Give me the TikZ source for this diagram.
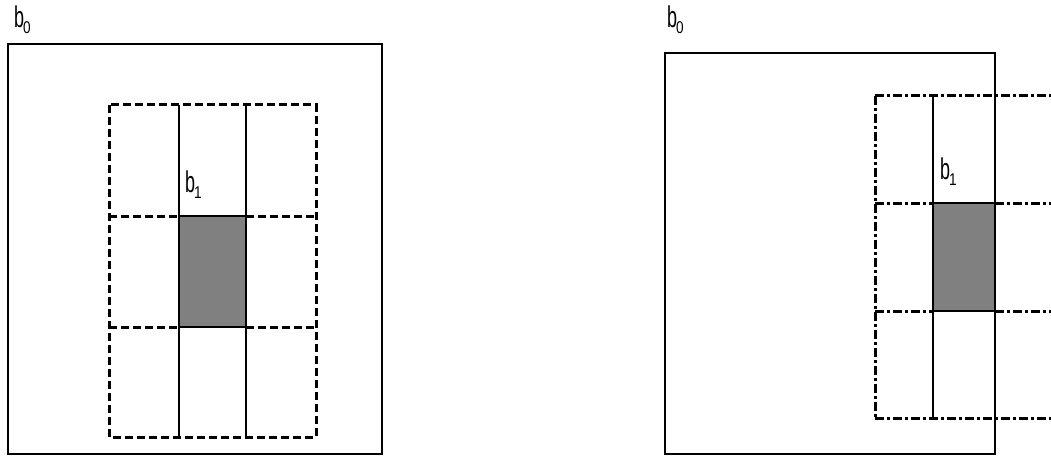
\documentclass[tikz,border=0pt]{standalone}
\usepackage{fontspec}
\setmainfont{Liberation Sans}
\tikzset{
  box/.style={draw=black, line width=2.6pt},
  solidline/.style={draw=black, line width=2.6pt},
  dashline/.style={draw=black, line width=3pt, dash pattern=on 8pt off 4pt},
  dashdotline/.style={draw=black, line width=3pt, dash pattern=on 9pt off 3pt on 3pt off 3pt},
  lbl/.style={anchor=north west, inner sep=0pt}
}
\newcommand{\blabel}[1]{\scalebox{0.6}[1]{\fontsize{30}{30}\selectfont b}\kern-1pt\raisebox{-6pt}{\scalebox{0.8}[1]{\fontsize{17}{17}\selectfont #1}}}
\begin{document}
\begin{tikzpicture}[x=1pt, y=-1pt]
\useasboundingbox (0,0) rectangle (1051,457);
\clip (0,0) rectangle (1051,457);
% ---------- left figure ----------
\node[lbl] (lb0) at (14,6) {\blabel{0}};
\draw[box] (8,44) rectangle (382,454);
\fill[gray] (179,216) rectangle (246,327);
\draw[dashline] (109,105) rectangle (316,437);
\draw[dashline] (109,216) -- (179,216);
\draw[dashline] (246,216) -- (316,216);
\draw[dashline] (109,327) -- (179,327);
\draw[dashline] (246,327) -- (316,327);
\draw[solidline] (179,105) -- (179,437);
\draw[solidline] (246,105) -- (246,437);
\draw[solidline] (179,216) -- (246,216);
\draw[solidline] (179,327) -- (246,327);
\node[lbl] (lb1) at (185,171) {\blabel{1}};
% ---------- right figure ----------
\node[lbl] (rb0) at (667,6) {\blabel{0}};
\fill[gray] (933,203) rectangle (995,311);
\draw[dashdotline] (875,96) -- (1060,96);
\draw[dashdotline] (875,418) -- (1060,418);
\draw[dashdotline] (875,96) -- (875,418);
\draw[dashdotline] (875,203) -- (933,203);
\draw[dashdotline] (995,203) -- (1060,203);
\draw[dashdotline] (875,311) -- (933,311);
\draw[dashdotline] (995,311) -- (1060,311);
\draw[solidline] (933,96) -- (933,418);
\draw[solidline] (933,203) -- (995,203);
\draw[solidline] (933,311) -- (995,311);
\draw[box] (665,53) rectangle (995,454);
\node[lbl] (rb1) at (940,158) {\blabel{1}};
\end{tikzpicture}
\end{document}
